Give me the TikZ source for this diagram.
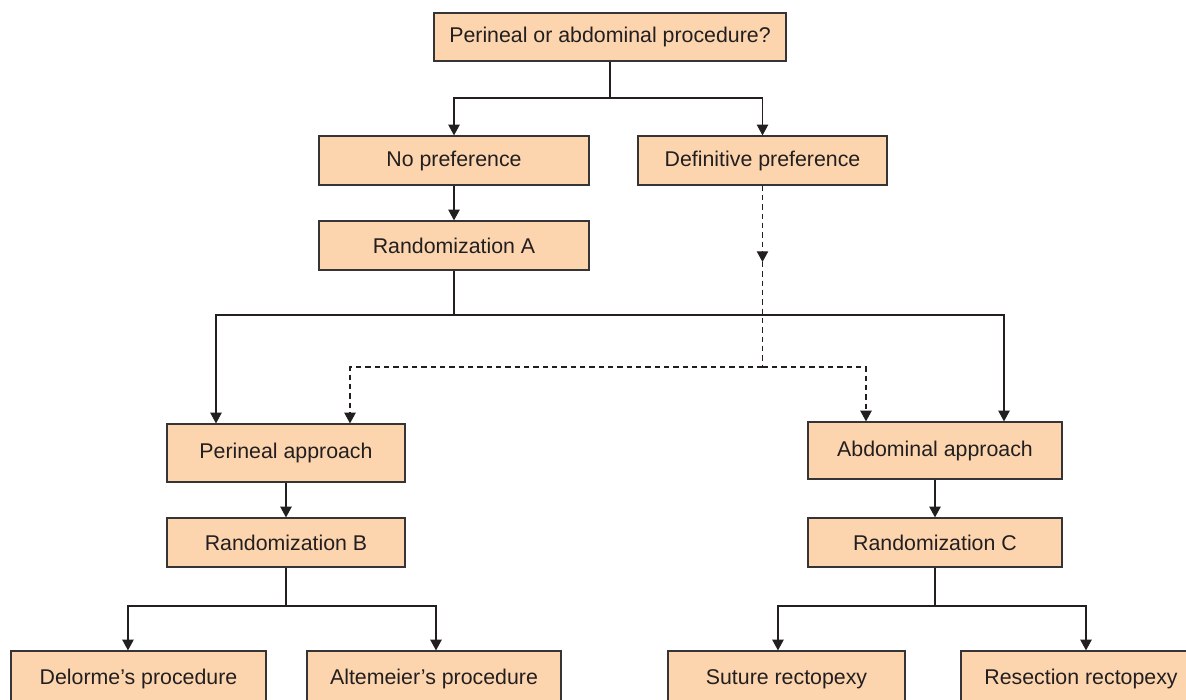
\documentclass[tikz,border=0pt]{standalone}
\usepackage{fontspec}
\setmainfont{Liberation Sans}
\usetikzlibrary{arrows.meta}
\definecolor{boxfill}{RGB}{252,213,174}
\definecolor{boxline}{RGB}{55,52,53}
\definecolor{inkgrey}{RGB}{35,31,32}

\begin{document}
\begin{tikzpicture}[x=0.75pt,y=0.75pt,yscale=-1,xscale=1,
    box/.style={draw=boxline,fill=boxfill,line width=0.9pt,inner sep=0pt,text=inkgrey,font=\fontsize{16}{19}\selectfont},
    link/.style={draw=inkgrey,line width=0.8pt},
    tip/.style={-{Triangle[length=8pt,width=8.5pt]}},
    dashlink/.style={link,dash pattern={on 4pt off 3pt}}]
\useasboundingbox (0,0) rectangle (1186,700);

%Shape: Rectangle
\node [box,minimum width=264pt,minimum height=36pt] (proc) at (610,37) {Perineal or abdominal procedure?};
%Shape: Rectangle
\node [box,minimum width=202.5pt,minimum height=36.75pt] (nopref) at (454,160.5) {No preference};
%Shape: Rectangle
\node [box,minimum width=186.75pt,minimum height=36.75pt] (defpref) at (762.5,160.5) {Definitive preference};
%Shape: Rectangle
\node [box,minimum width=202.5pt,minimum height=36.75pt] (randA) at (454,245.5) {Randomization A};
%Shape: Rectangle
\node [box,minimum width=178.5pt,minimum height=43.5pt] (perineal) at (286,453) {Perineal approach};
%Shape: Rectangle
\node [box,minimum width=190.5pt,minimum height=42.75pt] (abdominal) at (935,450.5) {Abdominal approach};
%Shape: Rectangle
\node [box,minimum width=178.5pt,minimum height=36.75pt] (randB) at (286,542.5) {Randomization B};
%Shape: Rectangle
\node [box,minimum width=190.5pt,minimum height=36.75pt] (randC) at (935,542.5) {Randomization C};
%Shape: Rectangle
\node [box,minimum width=191.25pt,minimum height=42pt] (delorme) at (138.5,679) {Delorme’s procedure};
%Shape: Rectangle
\node [box,minimum width=190.5pt,minimum height=42pt] (altemeier) at (434,679) {Altemeier’s procedure};
%Shape: Rectangle
\node [box,minimum width=177.75pt,minimum height=42pt] (suture) at (786.5,679) {Suture rectopexy};
%Shape: Rectangle (runs past the right edge)
\node [box,minimum width=225pt,minimum height=42pt] (resection) at (1111,679) {Resection rectopexy\hspace*{45pt}};

%Straight Lines
\coordinate (forkTop) at (610,98);
\draw [link] (proc) -- (forkTop);
\draw [link,tip] (forkTop) -| (nopref);
\draw [link,tip] (forkTop) -| (defpref);
\draw [link,tip] (nopref) -- (randA);

%Straight Lines
\coordinate (forkA) at (454,315);
\draw [link] (randA) -- (forkA);
\draw [link,tip] (forkA) -| ([xshift=-52.5pt]perineal.north);
\draw [link,tip] (forkA) -| ([xshift=51.75pt]abdominal.north);

%Dashed Lines
\coordinate (dashMid) at (762.5,262);
\coordinate (forkD) at (762.5,367);
\draw [dashlink,tip] (defpref) -- (dashMid);
\draw [dashlink] (dashMid) -- (forkD);
\draw [dashlink,tip] (forkD) -| ([xshift=48pt]perineal.north);
\draw [dashlink,tip] (forkD) -| ([xshift=-51.75pt]abdominal.north);

%Straight Lines
\draw [link,tip] (perineal) -- (randB);
\draw [link,tip] (abdominal) -- (randC);
\coordinate (forkB) at (286,606);
\draw [link] (randB) -- (forkB);
\draw [link,tip] (forkB) -| ([xshift=-7.9pt]delorme.north);
\draw [link,tip] (forkB) -| ([xshift=1.5pt]altemeier.north);
\coordinate (forkC) at (935,606);
\draw [link] (randC) -- (forkC);
\draw [link,tip] (forkC) -| ([xshift=-6.4pt]suture.north);
\draw [link,tip] (forkC) -| ([xshift=-18.75pt]resection.north);
\end{tikzpicture}
\end{document}
